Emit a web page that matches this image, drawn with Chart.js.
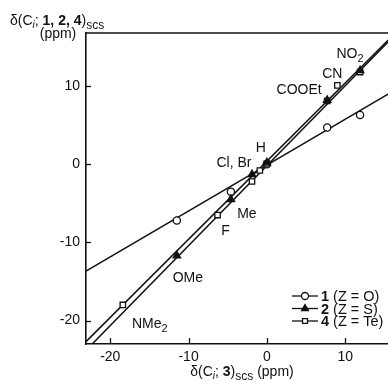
<!DOCTYPE html>
<html>
<head>
<meta charset="utf-8">
<script src="https://cdn.jsdelivr.net/npm/chart.js@4.4.1/dist/chart.umd.min.js"></script>
<style>
html, body { margin: 0; padding: 0; background: #fff; overflow: hidden; }
#wrap { width: 410px; height: 381px; }
</style>
</head>
<body>
<div id="wrap"><canvas id="scsChart" width="410" height="381"></canvas></div>
<script>
// substituent SCS values (ppm)
const substituents = ["NMe2", "OMe", "F", "Me", "Cl", "Br", "H", "COOEt", "CN", "NO2"];
const scsC3  = [-18.4, -11.5, -6.3, -4.6, -1.9, -0.9, 0.0, 7.7, 9.0, 11.9];
const scsZO  = [null, -7.2, null, -3.5, null, null, 0.0, 4.7, null, 6.3];
const scsZS  = [null, -11.7, null, -4.5, -1.3, null, 0.2, 8.2, null, 12.0];
const scsZTe = [-18.0, null, -6.5, null, -2.2, -0.8, 0.1, 8.1, 10.1, 11.8];

// regression lines for 1, 2, 4
const fitSlope     = [0.587, 1.023, 1.0];
const fitIntercept = [-0.1, -0.18, 0.4];

const xTicks = [-20, -10, 0, 10];
const yTicks = [-20, -10, 0, 10];
const xRange = [-23.1, 17];
const yRange = [-23, 16.8];

const FONT = '"Liberation Sans", Arial, Helvetica, sans-serif';
const INK = "#111";

function pts(ys) {
    const out = [];
    ys.forEach((y, i) => { if (y !== null) out.push({ x: scsC3[i], y: y }); });
    return out;
}
function fitLine(k) {
    return xRange.map(x => ({ x: x, y: fitSlope[k] * x + fitIntercept[k] }));
}

// rich text pieces
const N = t => ({ t, font: "14px " + FONT, dy: 0 });
const B = t => ({ t, font: "bold 14px " + FONT, dy: 0 });
const I = t => ({ t, font: "italic 10px " + FONT, dy: 3 });
const S = t => ({ t, font: "12px " + FONT, dy: 4 });
const S2 = t => ({ t, font: "11px " + FONT, dy: 4 });
const LN = t => ({ t, font: "14.5px " + FONT, dy: 0 });
const LB = t => ({ t, font: "bold 14.5px " + FONT, dy: 0 });

function richWidth(ctx, segs) {
    let w = 0;
    segs.forEach(s => { ctx.font = s.font; w += ctx.measureText(s.t).width; });
    return w;
}
function drawRich(ctx, segs, x, y, align) {
    const w = richWidth(ctx, segs);
    let cx = align === "center" ? x - w / 2 : align === "right" ? x - w : x;
    ctx.textAlign = "left";
    ctx.textBaseline = "alphabetic";
    segs.forEach(s => {
        ctx.font = s.font;
        ctx.fillText(s.t, cx, y + s.dy);
        cx += ctx.measureText(s.t).width;
    });
}

const pointLabels = {
    NMe2:  { segs: [N("NMe"), S2("2")], dx: 27, dy: 18 },
    OMe:   { segs: [N("OMe")], dx: 11, dy: 21 },
    F:     { segs: [N("F")], dx: 8, dy: 15 },
    Me:    { segs: [N("Me")], dx: 16, dy: 14 },
    Cl:    { segs: [N("Cl, Br")], dx: -18, dy: -12 },
    H:     { segs: [N("H")], dx: -6, dy: -16 },
    COOEt: { segs: [N("COOEt")], dx: -28, dy: -11 },
    CN:    { segs: [N("CN")], dx: -5, dy: -12 },
    NO2:   { segs: [N("NO"), S2("2")], dx: -10, dy: -18 }
};

const legendRows = [
    { segs: [LB("1"), LN(" (Z = O)")], style: "circle", fill: "#fff" },
    { segs: [LB("2"), LN(" (Z = S)")], style: "triangle", fill: INK },
    { segs: [LB("4"), LN(" (Z = Te)")], style: "rect", fill: "#fff" }
];

const decor = {
    id: "decor",
    afterDraw(chart) {
        const ctx = chart.ctx;
        const a = chart.chartArea;
        const xs = chart.scales.x, ys = chart.scales.y;
        ctx.save();
        ctx.strokeStyle = INK;
        ctx.fillStyle = INK;

        // top frame line
        ctx.lineWidth = 1.6;
        ctx.beginPath();
        ctx.moveTo(a.left, a.top);
        ctx.lineTo(a.right + 2, a.top);
        ctx.stroke();

        // inward ticks
        ctx.lineWidth = 1.3;
        xTicks.forEach(v => {
            const px = Math.round(xs.getPixelForValue(v)) + 0.5;
            ctx.beginPath();
            ctx.moveTo(px, a.bottom);
            ctx.lineTo(px, a.bottom - 6);
            ctx.stroke();
        });
        yTicks.forEach(v => {
            const py = Math.round(ys.getPixelForValue(v)) + 0.5;
            ctx.beginPath();
            ctx.moveTo(a.left, py);
            ctx.lineTo(a.left + 5, py);
            ctx.stroke();
        });

        // axis titles
        drawRich(ctx, [N("δ(C"), I("i"), N("; "), B("1, 2, 4"), N(")"), S("scs")], 10, 25, "left");
        drawRich(ctx, [N("(ppm)")], 58, 38, "center");
        drawRich(ctx, [N("δ(C"), I("i"), N("; "), B("3"), N(")"), S("scs"), N(" (ppm)")], 242, 376, "center");

        // substituent labels
        substituents.forEach((name, i) => {
            const lab = pointLabels[name];
            if (!lab) return;
            const yv = scsZS[i] !== null ? scsZS[i] : scsZTe[i];
            const px = xs.getPixelForValue(scsC3[i]) + lab.dx;
            const py = ys.getPixelForValue(yv) + lab.dy;
            drawRich(ctx, lab.segs, px, py + 5, "center");
        });

        // legend
        legendRows.forEach((row, k) => {
            const y = 296 + k * 12.5;
            ctx.lineWidth = 1.3;
            ctx.strokeStyle = INK;
            ctx.beginPath();
            ctx.moveTo(292, y);
            ctx.lineTo(318, y);
            ctx.stroke();
            ctx.fillStyle = row.fill;
            Chart.helpers.drawPoint(ctx, { pointStyle: row.style, radius: row.style === "triangle" ? 4 : 3.5, borderWidth: 1.3, rotation: 0 }, 305, y);
            ctx.fillStyle = INK;
            drawRich(ctx, row.segs, 321, y + 5, "left");
        });
        ctx.restore();
    }
};

const lineStyle = { showLine: true, borderColor: INK, borderWidth: 1.5, pointRadius: 0, fill: false };

new Chart(document.getElementById("scsChart").getContext("2d"), {
    type: "scatter",
    data: {
        datasets: [
            { label: "2 (Z = S)", data: pts(scsZS), pointStyle: "triangle", pointRadius: 4.3, backgroundColor: INK, borderColor: INK, borderWidth: 1.3 },
            { label: "4 (Z = Te)", data: pts(scsZTe), pointStyle: "rect", pointRadius: 3.8, backgroundColor: "#fff", borderColor: INK, borderWidth: 1.3 },
            { label: "1 (Z = O)", data: pts(scsZO), pointStyle: "circle", pointRadius: 3.6, backgroundColor: "#fff", borderColor: INK, borderWidth: 1.3 },
            Object.assign({ label: "fit 1", data: fitLine(0) }, lineStyle),
            Object.assign({ label: "fit 2", data: fitLine(1) }, lineStyle),
            Object.assign({ label: "fit 4", data: fitLine(2) }, lineStyle)
        ]
    },
    options: {
        responsive: false,
        animation: false,
        layout: { padding: { left: 0, right: 10, top: 33, bottom: 0 } },
        plugins: { legend: { display: false }, tooltip: { enabled: false } },
        scales: {
            x: {
                type: "linear",
                min: xRange[0],
                max: xRange[1],
                afterBuildTicks: s => { s.ticks = xTicks.map(v => ({ value: v })); },
                afterFit: s => { s.height = 37; },
                grid: { display: true, drawOnChartArea: false, drawTicks: false },
                border: { display: true, color: INK, width: 1.6 },
                ticks: { color: INK, padding: 5, font: { family: FONT, size: 14 }, maxRotation: 0 }
            },
            y: {
                type: "linear",
                min: yRange[0],
                max: yRange[1],
                afterBuildTicks: s => { s.ticks = yTicks.map(v => ({ value: v })); },
                afterFit: s => { s.width = 86; },
                grid: { display: true, drawOnChartArea: false, drawTicks: false },
                border: { display: true, color: INK, width: 1.6 },
                ticks: { color: INK, padding: 6, font: { family: FONT, size: 14 } }
            }
        }
    },
    plugins: [decor]
});
</script>
</body>
</html>
